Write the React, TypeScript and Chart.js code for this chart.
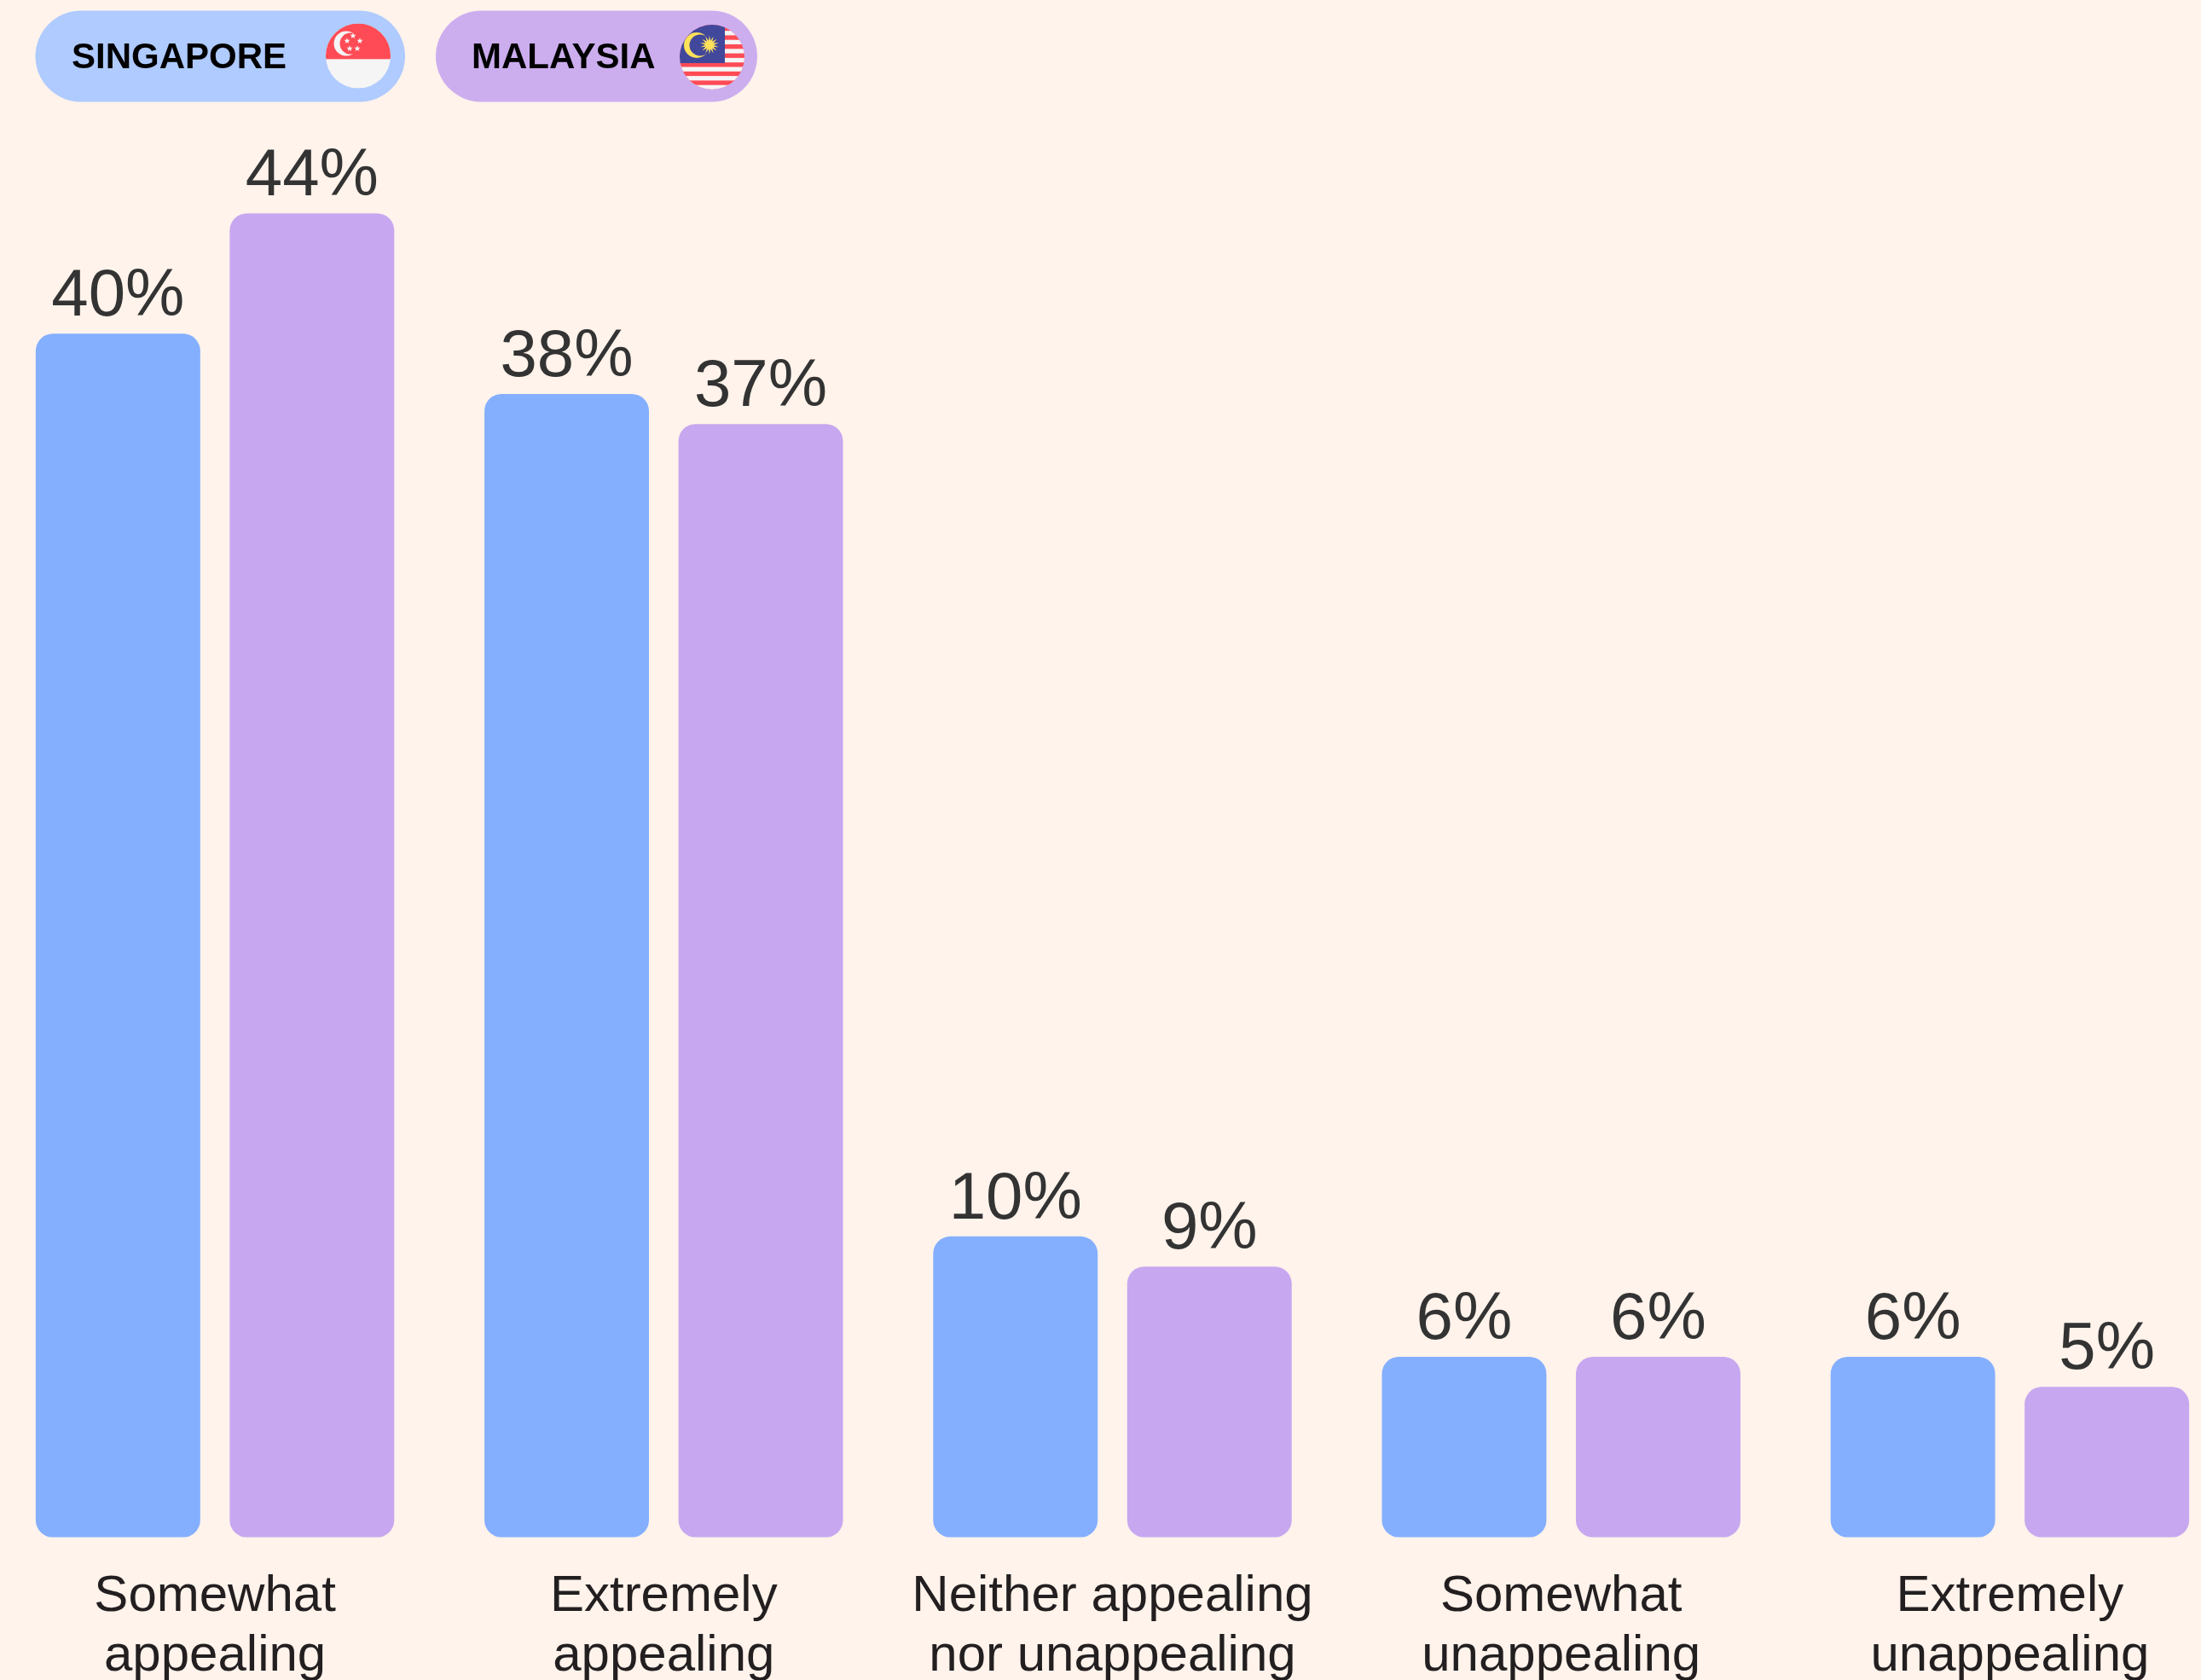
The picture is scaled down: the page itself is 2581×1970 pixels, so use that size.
import React, { useEffect, useRef } from "react";
import { Chart, registerables } from "chart.js";

Chart.register(...registerables);

const categories = [
  ["Somewhat", "appealing"],
  ["Extremely", "appealing"],
  ["Neither appealing", "nor unappealing"],
  ["Somewhat", "unappealing"],
  ["Extremely", "unappealing"],
];
const singaporeValues = [40, 38, 10, 6, 6];
const malaysiaValues = [44, 37, 9, 6, 5];

const PAGE_BG = "#FFF3EB";
const BLUE = "#84AFFF";
const PURPLE = "#C7A7F0";
const PILL_BLUE = "#AFCBFF";
const PILL_PURPLE = "#CCAEEF";
const FONT = '"Liberation Sans", Arial, sans-serif';

// The plot runs slightly past both page edges, so the canvas is wider than the page.
const CANVAS_WIDTH = 2631;
const CANVAS_SHIFT = 11;

function star(ctx: CanvasRenderingContext2D, cx: number, cy: number, outer: number, inner: number, points: number) {
  ctx.beginPath();
  for (let i = 0; i < points * 2; i++) {
    const r = i % 2 === 0 ? outer : inner;
    const a = -Math.PI / 2 + (i * Math.PI) / points;
    const x = cx + Math.cos(a) * r;
    const y = cy + Math.sin(a) * r;
    if (i === 0) ctx.moveTo(x, y);
    else ctx.lineTo(x, y);
  }
  ctx.closePath();
  ctx.fill();
}

function singaporeFlag(ctx: CanvasRenderingContext2D, cx: number, cy: number, r: number) {
  ctx.save();
  ctx.beginPath();
  ctx.arc(cx, cy, r, 0, Math.PI * 2);
  ctx.clip();
  ctx.fillStyle = "#F5F5F5";
  ctx.fillRect(cx - r, cy - r, r * 2, r * 2);
  ctx.fillStyle = "#FF4B55";
  ctx.fillRect(cx - r, cy - r, r * 2, r + 3.7);
  // crescent: a white disc with a red disc cut out of it
  ctx.fillStyle = "#F5F5F5";
  ctx.beginPath();
  ctx.arc(cx - 14, cy - 14.5, 14.5, 0, Math.PI * 2);
  ctx.fill();
  ctx.fillStyle = "#FF4B55";
  ctx.beginPath();
  ctx.arc(cx - 9, cy - 14.5, 12.5, 0, Math.PI * 2);
  ctx.fill();
  ctx.fillStyle = "#F5F5F5";
  const stars = [
    [-6, -23.6],
    [-13, -17.6],
    [2, -17.6],
    [-10, -8.6],
    [-1, -8.6],
  ];
  stars.forEach(([dx, dy]) => star(ctx, cx + dx, cy + dy, 3.8, 1.6, 5));
  ctx.restore();
}

function malaysiaFlag(ctx: CanvasRenderingContext2D, cx: number, cy: number, r: number) {
  ctx.save();
  ctx.beginPath();
  ctx.arc(cx, cy, r, 0, Math.PI * 2);
  ctx.clip();
  ctx.fillStyle = "#FF4B55";
  ctx.fillRect(cx - r, cy - r, r * 2, r * 2);
  const stripe = 5.3;
  for (let i = 1; i < 14; i += 2) {
    ctx.fillStyle = "#F5F5F5";
    ctx.fillRect(cx - r, cy + r - 14 * stripe + i * stripe, r * 2, stripe);
  }
  ctx.fillStyle = "#41479B";
  ctx.fillRect(cx - r, cy - r, r + 15, r + 7);
  ctx.fillStyle = "#FFE15A";
  ctx.beginPath();
  ctx.arc(cx - 18, cy - 14, 15, 0, Math.PI * 2);
  ctx.fill();
  ctx.fillStyle = "#41479B";
  ctx.beginPath();
  ctx.arc(cx - 14, cy - 14, 12.5, 0, Math.PI * 2);
  ctx.fill();
  ctx.fillStyle = "#FFE15A";
  star(ctx, cx - 3, cy - 14.3, 11, 5, 14);
  ctx.restore();
}

function pill(ctx: CanvasRenderingContext2D, x: number, y: number, w: number, h: number, color: string) {
  ctx.fillStyle = color;
  ctx.beginPath();
  ctx.roundRect(x, y, w, h, h / 2);
  ctx.fill();
}

// Rounded country chips along the top edge, each with its flag.
const countryChips = {
  id: "countryChips",
  afterDraw(chart: Chart) {
    const ctx = chart.ctx;
    ctx.save();
    ctx.translate(CANVAS_SHIFT, 0);
    pill(ctx, 41.5, 12.5, 433.5, 107, PILL_BLUE);
    pill(ctx, 511, 12.5, 377, 107, PILL_PURPLE);
    ctx.fillStyle = "#000000";
    ctx.font = `bold 42px ${FONT}`;
    ctx.textAlign = "left";
    ctx.textBaseline = "alphabetic";
    ctx.fillText("SINGAPORE", 84, 80);
    ctx.fillText("MALAYSIA", 553, 80);
    singaporeFlag(ctx, 420, 65.6, 38);
    malaysiaFlag(ctx, 835, 67, 38);
    ctx.restore();
  },
};

// Percentage printed just above every bar.
const valueLabels = {
  id: "valueLabels",
  afterDatasetsDraw(chart: Chart) {
    const ctx = chart.ctx;
    ctx.save();
    ctx.fillStyle = "#333333";
    ctx.font = `78px ${FONT}`;
    ctx.textAlign = "center";
    ctx.textBaseline = "alphabetic";
    chart.data.datasets.forEach((ds, di) => {
      chart.getDatasetMeta(di).data.forEach((bar, i) => {
        ctx.fillText(`${ds.data[i]}%`, bar.x, bar.y - 21);
      });
    });
    ctx.restore();
  },
};

export default function App() {
  const canvasRef = useRef<HTMLCanvasElement>(null);

  useEffect(() => {
    document.body.style.margin = "0";
    document.body.style.background = PAGE_BG;
    const chart = new Chart(canvasRef.current!, {
      type: "bar",
      data: {
        labels: categories,
        datasets: [
          { label: "Singapore", data: singaporeValues, backgroundColor: BLUE },
          { label: "Malaysia", data: malaysiaValues, backgroundColor: PURPLE },
        ],
      },
      plugins: [valueLabels, countryChips],
      options: {
        animation: false,
        responsive: false,
        layout: { padding: { left: 0, right: 0, top: 38.5, bottom: 0 } },
        datasets: {
          bar: {
            categoryPercentage: 0.8647,
            barPercentage: 0.848,
            borderRadius: 20,
            borderSkipped: false,
          },
        },
        plugins: { legend: { display: false }, tooltip: { enabled: false } },
        scales: {
          y: { display: false, min: 0, max: 50 },
          x: {
            grid: { display: false },
            border: { display: false },
            afterFit(scale: any) {
              scale.height = 167.3;
            },
            ticks: {
              autoSkip: false,
              maxRotation: 0,
              minRotation: 0,
              padding: 27,
              color: "#231F20",
              font: { family: FONT, size: 60, lineHeight: 70 / 60 },
            },
          },
        },
      },
    } as any);
    return () => chart.destroy();
  }, []);

  return (
    <div style={{ width: 2581, height: 1970, background: PAGE_BG, overflow: "hidden" }}>
      <canvas
        ref={canvasRef}
        width={CANVAS_WIDTH}
        height={1970}
        style={{ display: "block", marginLeft: -CANVAS_SHIFT }}
      />
    </div>
  );
}
